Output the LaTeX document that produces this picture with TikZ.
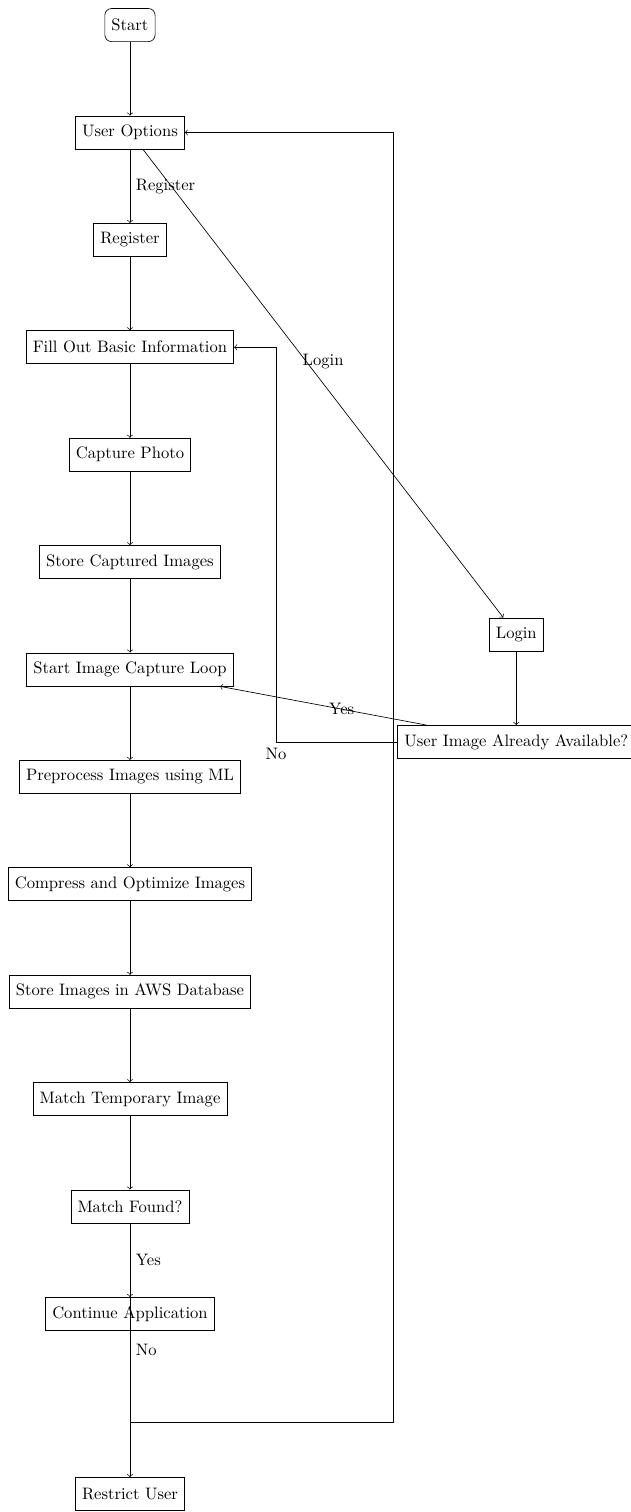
\documentclass[tikz,border=0pt]{standalone}
\usepackage{tikz}
\usetikzlibrary{positioning, shapes.geometric, arrows}
\tikzset{
    startstop/.style={rectangle, rounded corners, draw=black, minimum height=0.7cm, inner sep=4pt},
    process/.style={rectangle, draw=black, minimum height=0.7cm, inner sep=4pt},
}

\begin{document}
\begin{tikzpicture}[node distance=1.56cm]
            \useasboundingbox (-78.3pt,15.1pt) rectangle (301.8pt,-895.8pt);
            \node [startstop] (start) at (0,0) {Start};
            \node [process] (options) [below = of start] {User Options};
            \node [process] (register) [below = of options] {Register};
            \node [process] (fill) [below = of register] {Fill Out Basic Information};
            \node [process] (capture) [below = of fill] {Capture Photo};
            \node [process] (store) [below = of capture] {Store Captured Images};
            \node [process] (loop) [below = of store] {Start Image Capture Loop};
            \node [process] (preprocess) [below = of loop] {Preprocess Images using ML};
            \node [process] (compress) [below = of preprocess] {Compress and Optimize Images};
            \node [process] (aws) [below = of compress] {Store Images in AWS Database};
            \node [process] (temp) [below = of aws] {Match Temporary Image};
            \node [process] (found) [below = of temp] {Match Found?};
            \node [process] (continue) [below = of found] {Continue Application};
            \node [process] (restrict) [below = 3.1cm of continue] {Restrict User};
            \node [process] (login) at ([shift={(8.18cm,-10.63cm)}]options) {Login};
            \node [process] (avail) [below = of login] {User Image Already Available?};
            \coordinate (nobend) at ([xshift=-2.57cm]avail.west);
            \coordinate (back) at ([yshift=-1.93cm]continue.south);
            \coordinate (backright) at ([xshift=5.57cm]back);
            \draw[->] (start) -- (options);
            \draw[->] (options) -- node[right] {Register} (register);
            \draw[->] (options) -- node[above=5pt] {Login} (login);
            \draw[->] (register) -- (fill);
            \draw[->] (fill) -- (capture);
            \draw[->] (capture) -- (store);
            \draw[->] (store) -- (loop);
            \draw[->] (loop) -- (preprocess);
            \draw[->] (preprocess) -- (compress);
            \draw[->] (compress) -- (aws);
            \draw[->] (aws) -- (temp);
            \draw[->] (temp) -- (found);
            \draw[->] (found) -- node[right] {Yes} (continue);
            \draw[->] (found) -- node[right] {No} (restrict);
            \draw[->] (login) -- (avail);
            \draw[->] (avail) -- node[pos=0.41] {Yes} (loop);
            \draw[->] (avail.west) -- (nobend) node[below] {No} |- (fill.east);
            \draw[->] (continue.south) -- (back) -- (backright) |- (options.east);
        \end{tikzpicture}
\end{document}
